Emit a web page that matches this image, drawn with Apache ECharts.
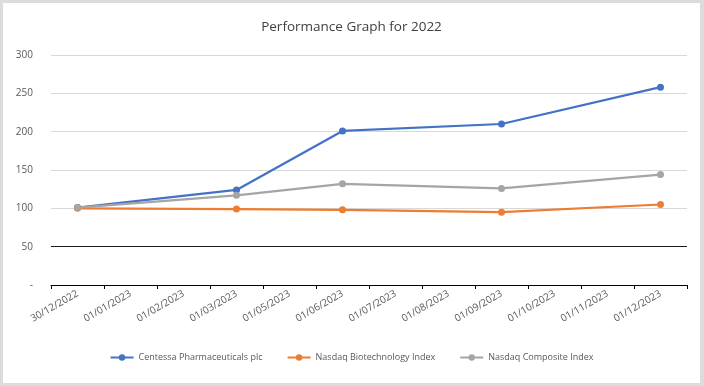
<!DOCTYPE html>
<html><head><meta charset="utf-8">
<script src="https://cdn.jsdelivr.net/npm/echarts@6/dist/echarts.min.js"></script>
<style>
html,body{margin:0;padding:0;background:#dcdcdc;}
#c{position:absolute;left:3px;top:3px;width:697px;height:380px;background:#fff;}
</style></head>
<body><div id="c"></div>
<script>
const categories = ['30/12/2022','01/01/2023','01/02/2023','01/03/2023','01/05/2023','01/06/2023','01/07/2023','01/08/2023','01/09/2023','01/10/2023','01/11/2023','01/12/2023'];
const centessa = [101, null, null, 124, null, 201, null, null, 210, null, null, 258];
const nbi      = [100, null, null, 99, null, 98, null, null, 95, null, null, 105];
const ncomp    = [101, null, null, 117, null, 132, null, null, 126, null, null, 144];
const yTicks = [0, 50, 100, 150, 200, 250, 300];

const chart = echarts.init(document.getElementById('c'));
const font = 'Open Sans, Liberation Sans, sans-serif';
function ser(name, data, color, extra) {
  return Object.assign({
    name, type: 'line', data, connectNulls: true,
    symbol: 'circle', symbolSize: 7,
    lineStyle: { width: 2.25, color }, itemStyle: { color },
    emphasis: { disabled: true }
  }, extra || {});
}
chart.setOption({
  animation: false,
  title: { text: 'Performance Graph for 2022', left: 'center', top: 12,
    textStyle: { fontFamily: font, fontSize: 13.5, fontWeight: 'normal', color: '#404040' } },
  grid: { left: 48, right: 13, top: 52, bottom: 98 },
  legend: { bottom: 16, left: 'center', itemGap: 24, itemWidth: 23, itemHeight: 8,
    textStyle: { fontFamily: font, fontSize: 9, color: '#595959' } },
  xAxis: { type: 'category', data: categories, boundaryGap: true,
    axisLine: { lineStyle: { color: '#000', width: 1 } },
    axisTick: { show: true, length: 4, lineStyle: { color: '#000' } },
    axisLabel: { rotate: 30, fontFamily: font, fontSize: 10, color: '#595959', margin: 8, interval: 0 } },
  yAxis: { type: 'value', min: yTicks[0], max: yTicks[yTicks.length-1], interval: 50,
    axisLine: { show: false }, axisTick: { show: false },
    axisLabel: { fontFamily: font, fontSize: 10, color: '#595959', margin: 18,
      formatter: v => v === 0 ? '-' : String(v) },
    splitLine: { lineStyle: { color: '#d9d9d9', width: 1 } } },
  series: [
    ser('Centessa Pharmaceuticals plc', centessa, '#4472C4', {
      markLine: { silent: true, symbol: 'none', label: { show: false },
        lineStyle: { color: '#1a1a1a', type: 'solid', width: 1 }, data: [{ yAxis: yTicks[1] }] } }),
    ser('Nasdaq Biotechnology Index', nbi, '#ED7D31'),
    ser('Nasdaq Composite Index', ncomp, '#A5A5A5')
  ]
});
</script></body></html>
